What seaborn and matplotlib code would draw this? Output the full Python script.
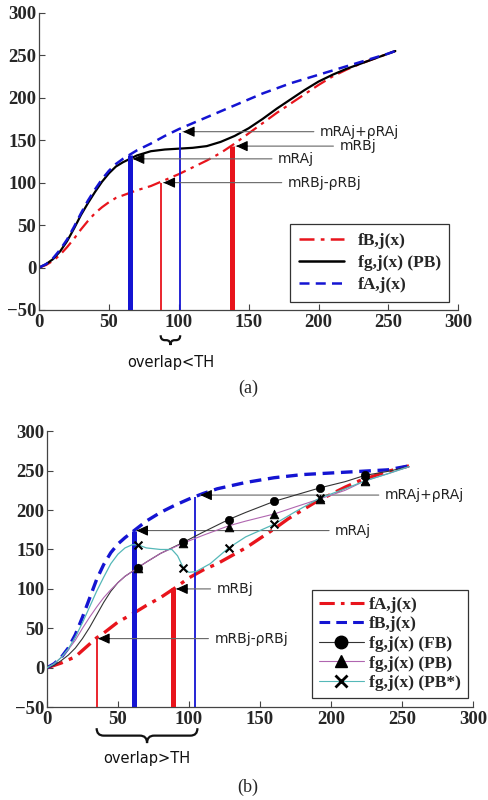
import numpy as np
import pandas as pd
import matplotlib
matplotlib.use('Agg')
import matplotlib.pyplot as plt
import matplotlib.transforms as mtransforms
from matplotlib.path import Path
from matplotlib.patches import PathPatch
from matplotlib.lines import Line2D
import seaborn as sns

sns.set_style('ticks')
plt.rcParams['font.family'] = ['DejaVu Sans']

RED = '#e8141c'
BLUE = '#1414d2'
PURPLE = '#b066b0'
CYAN = '#55b8b8'
SERIF = 'Liberation Serif'

# ---------- panel (a) data ----------
a_x = [0, 5, 10, 15, 20, 25, 30, 35, 40, 45, 50, 55, 60, 65, 70, 80, 90, 100, 110, 120,
       130, 140, 150, 160, 170, 180, 190, 200, 210, 220, 230, 240, 250, 255]
a_fA = [0, 4, 11, 21, 33, 48, 64, 79, 92, 104, 114, 122, 128, 133, 138, 146, 155, 163, 170, 177,
        184, 191, 198, 205, 211, 217, 222, 227, 232, 237, 242, 247, 252, 255]
a_fg = [0, 4, 10, 19, 31, 46, 62, 76, 89, 101, 111, 119, 124, 128, 132, 137, 139, 140, 141, 143,
        148, 155, 164, 175, 187, 198, 209, 219, 227, 234, 240, 246, 252, 255]
a_fB = [0, 3, 8, 15, 24, 34, 45, 55, 64, 71, 77, 82, 85, 88, 91, 96, 103, 110, 118, 126,
        135, 146, 158, 170, 182, 193, 204, 215, 225, 233, 240, 246, 252, 255]

a_vx = [65, 87, 101, 138]
a_vtop = [132, 100, 158, 143]
a_vcol = [BLUE, RED, BLUE, RED]
a_vw = [3.6, 1.3, 1.3, 3.6]

a_labels = ['mRAj+ρRAj', 'mRBj', 'mRAj', 'mRBj-ρRBj']
a_tip_x = [103, 141, 67, 89]
a_tip_y = [160, 143, 128, 100]
a_text_x = [201, 215, 171, 178]
a_brace = (87, 101)

# ---------- panel (b) data ----------
b_xB = [0, 5, 10, 15, 20, 25, 30, 35, 40, 45, 50, 55, 60, 70, 80, 90, 100, 110, 120, 130,
        140, 150, 160, 180, 200, 220, 240, 255]
b_fB = [0, 5, 13, 25, 42, 64, 88, 112, 131, 146, 157, 165, 172, 186, 197, 206, 214, 221, 227, 231,
        235, 238, 241, 245, 247, 249, 251, 256]
b_xA = [0, 10, 20, 30, 35, 40, 50, 60, 70, 80, 90, 100, 110, 120, 130, 140, 150, 160, 170,
        180, 190, 200, 210, 220, 230, 240, 255]
b_fA = [0, 6, 14, 30, 38, 44, 58, 68, 79, 89, 101, 114, 124, 132, 142, 152, 164, 176, 189,
        200, 211, 220, 229, 237, 243, 249, 256]
b_xg = [0, 5, 10, 15, 20, 25, 30, 35, 40, 45, 50, 55, 60, 64, 70, 80, 96, 110, 128, 140,
        160, 175, 192, 210, 224, 240, 255]
b_FB = [0, 3, 9, 16, 25, 37, 51, 67, 83, 97, 108, 116, 122, 127, 134, 145, 159, 172, 188, 197,
        211, 219, 228, 236, 244, 249, 255]
b_PB = [0, 5, 13, 23, 35, 50, 64, 77, 89, 99, 108, 116, 122, 127, 134, 145, 158, 168, 180, 186,
        195, 204, 214, 225, 237, 246, 255]
b_xs = [0, 5, 10, 15, 20, 25, 30, 35, 40, 45, 50, 55, 60, 64, 70, 80, 88, 92, 96, 100, 105,
        115, 128, 140, 160, 175, 192, 210, 224, 240, 255]
b_PBs = [0, 5, 13, 24, 39, 57, 77, 97, 115, 132, 144, 152, 156, 156, 152, 150, 150, 142, 127, 121, 122,
         132, 152, 166, 182, 198, 215, 227, 237, 246, 255]

m_x = [64, 96, 128, 160, 192, 224]
m_FB = [127, 159, 188, 211, 228, 244]
m_PB = [127, 158, 178, 195, 214, 237]
m_PBs = [156, 127, 152, 182, 215, 237]

b_vx = [35, 61, 89, 104]
b_vtop = [38, 173, 101, 216]
b_vcol = [RED, BLUE, RED, BLUE]
b_vw = [1.3, 3.6, 3.6, 1.3]

b_labels = ['mRAj+ρRAj', 'mRAj', 'mRBj', 'mRBj-ρRBj']
b_tip_x = [108, 63, 91, 36]
b_tip_y = [219, 174, 100, 37]
b_text_x = [238, 203, 119.5, 118]
b_brace = (35, 106)


def style(ax):
    ax.set_xlim(0, 300)
    ax.set_ylim(-50, 300)
    ax.set_xticks(range(0, 301, 50))
    ax.set_yticks(range(-50, 301, 50))
    sns.despine(ax=ax)
    for s in ['left', 'bottom']:
        ax.spines[s].set_color('#444')
        ax.spines[s].set_linewidth(0.9)
    ax.tick_params(direction='in', length=4, width=0.8, color='#444', labelsize=13.5)
    ax.tick_params(axis='x', pad=3)
    ax.tick_params(axis='y', pad=2)
    for lab in ax.get_xticklabels() + ax.get_yticklabels():
        lab.set_fontfamily(SERIF)
        lab.set_fontweight('bold')
    ax.set_xlabel('')
    ax.set_ylabel('')


def callouts(ax, labels, tx, ty, textx):
    for lab, x, y, t in zip(labels, tx, ty, textx):
        # thin grey leader line
        ax.annotate(lab, xy=(x, y), xytext=(t, y), ha='left', va='center',
                    fontsize=10, color='#222',
                    arrowprops=dict(arrowstyle='-', color='#666', lw=0.8,
                                    shrinkA=2, shrinkB=0))
        # small black head
        ax.annotate('', xy=(x, y), xytext=(x + 8, y),
                    arrowprops=dict(arrowstyle='-|>,head_length=0.7,head_width=0.32',
                                    mutation_scale=10, color='black', lw=0.8,
                                    shrinkA=0, shrinkB=0))


def brace(ax, x0, x1, ytop, ytip, q, text, ytext):
    tr = mtransforms.blended_transform_factory(ax.transData, ax.transAxes)
    xm = (x0 + x1) / 2
    ym = (ytop + ytip) / 2
    verts = [(x0, ytop), (x0, ym), (x0 + q, ym),
             (xm - q, ym), (xm, ym), (xm, ytip),
             (xm, ym), (xm + q, ym),
             (x1 - q, ym), (x1, ym), (x1, ytop)]
    codes = [Path.MOVETO, Path.CURVE3, Path.CURVE3,
             Path.LINETO, Path.CURVE3, Path.CURVE3,
             Path.CURVE3, Path.CURVE3,
             Path.LINETO, Path.CURVE3, Path.CURVE3]
    ax.add_patch(PathPatch(Path(verts, codes), transform=tr, fill=False,
                           lw=1.6, color='#111', clip_on=False))
    ax.text(xm, ytext, text, transform=tr, ha='center', va='center',
            fontsize=10.5, color='#111')


fig = plt.figure(figsize=(4.89, 8), dpi=100)
ax_a = fig.add_axes([0.080, 0.6125, 0.857, 0.3715])
ax_b = fig.add_axes([0.096, 0.116, 0.871, 0.345])

# ---------- (a) ----------
ax_a.vlines(a_vx, -50, a_vtop, colors=a_vcol, linewidths=a_vw, zorder=3)
sns.lineplot(x=a_x, y=a_fB, ax=ax_a, color=RED, lw=1.6, estimator=None,
             linestyle=(0, (6, 2.5, 1.5, 2.5)), zorder=2)
sns.lineplot(x=a_x, y=a_fg, ax=ax_a, color='black', lw=1.6, estimator=None, zorder=2)
sns.lineplot(x=a_x, y=a_fA, ax=ax_a, color=BLUE, lw=1.8, estimator=None,
             linestyle=(0, (4, 2.5)), zorder=2)
style(ax_a)
callouts(ax_a, a_labels, a_tip_x, a_tip_y, a_text_x)
brace(ax_a, a_brace[0], a_brace[1], -0.085, -0.118, 3.0, 'overlap<TH', -0.178)

h_a = [Line2D([], [], color=RED, lw=1.8, ls=(0, (6, 2.5, 1.5, 2.5))),
       Line2D([], [], color='black', lw=1.8),
       Line2D([], [], color=BLUE, lw=1.8, ls=(0, (4, 2.5)))]
leg = ax_a.legend(h_a, ['fB,j(x)', 'fg,j(x) (PB)', 'fA,j(x)'],
                  loc='lower right', bbox_to_anchor=(0.979, 0.027), borderaxespad=0,
                  prop={'family': SERIF, 'weight': 'bold', 'size': 12.5},
                  frameon=True, fancybox=False, edgecolor='#333', framealpha=1,
                  handlelength=2.6, labelspacing=0.35, borderpad=0.5, handletextpad=0.8)
leg.get_frame().set_linewidth(0.9)

# ---------- (b) ----------
ax_b.vlines(b_vx, -50, b_vtop, colors=b_vcol, linewidths=b_vw, zorder=3)
sns.lineplot(x=b_xA, y=b_fA, ax=ax_b, color=RED, lw=2.4, estimator=None,
             linestyle=(0, (5, 2, 1.2, 2)), zorder=2)
sns.lineplot(x=b_xB, y=b_fB, ax=ax_b, color=BLUE, lw=2.4, estimator=None,
             linestyle=(0, (3.5, 2)), zorder=2)
sns.lineplot(x=b_xg, y=b_FB, ax=ax_b, color='#333', lw=0.8, estimator=None, zorder=4)
sns.lineplot(x=b_xg, y=b_PB, ax=ax_b, color=PURPLE, lw=0.8, estimator=None, zorder=4)
sns.lineplot(x=b_xs, y=b_PBs, ax=ax_b, color=CYAN, lw=0.9, estimator=None, zorder=4)
sns.scatterplot(x=m_x, y=m_FB, ax=ax_b, marker='o', s=36, color='black', edgecolor='black', zorder=5)
sns.scatterplot(x=m_x, y=m_PB, ax=ax_b, marker='^', s=40, color='black', edgecolor='black', zorder=5)
sns.scatterplot(x=m_x, y=m_PBs, ax=ax_b, marker='x', s=32, color='black', linewidth=1.5, zorder=5)
style(ax_b)
callouts(ax_b, b_labels, b_tip_x, b_tip_y, b_text_x)
brace(ax_b, b_brace[0], b_brace[1], -0.076, -0.13, 5.0, 'overlap>TH', -0.185)

h_b = [Line2D([], [], color=RED, lw=2.2, ls=(0, (5, 2, 1.2, 2))),
       Line2D([], [], color=BLUE, lw=2.2, ls=(0, (3.5, 2))),
       Line2D([], [], color='#333', lw=0.8, marker='o', ms=9, mfc='black', mec='black'),
       Line2D([], [], color=PURPLE, lw=0.8, marker='^', ms=9, mfc='black', mec='black'),
       Line2D([], [], color=CYAN, lw=0.8, marker='x', ms=9, mew=2, mec='black')]
leg = ax_b.legend(h_b, ['fA,j(x)', 'fB,j(x)', 'fg,j(x) (FB)', 'fg,j(x) (PB)', 'fg,j(x) (PB*)'],
                  loc='lower right', bbox_to_anchor=(0.988, 0.033), borderaxespad=0,
                  prop={'family': SERIF, 'weight': 'bold', 'size': 12.5},
                  frameon=True, fancybox=False, edgecolor='#333', framealpha=1,
                  handlelength=2.6, labelspacing=0.2, borderpad=0.4, handletextpad=0.3)
leg.get_frame().set_linewidth(0.9)

fig.text(0.507, 0.515, '(a)', ha='center', va='center', family=SERIF, fontsize=13)
fig.text(0.507, 0.016, '(b)', ha='center', va='center', family=SERIF, fontsize=13)

fig.savefig('out.png', dpi=100)
